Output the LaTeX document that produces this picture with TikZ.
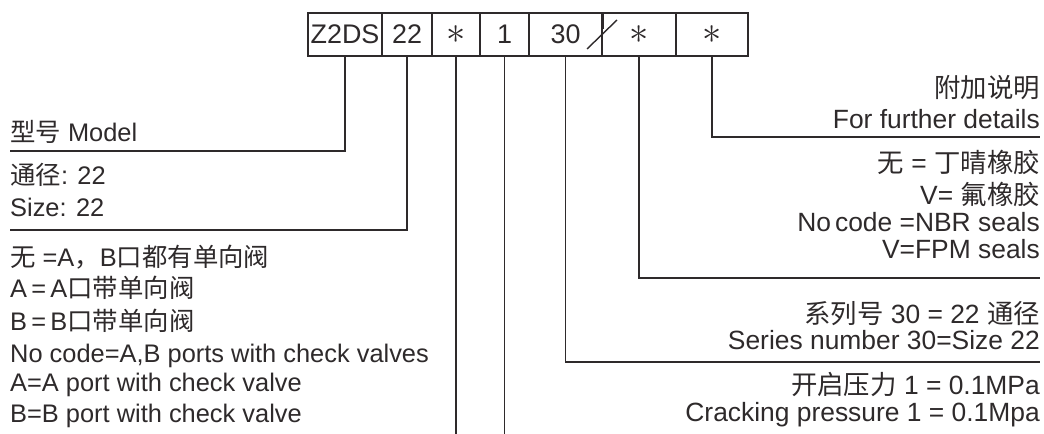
\documentclass[tikz,border=0pt]{standalone}
\usepackage{fontspec}
\setmainfont{Liberation Sans}
\newfontfamily\cjk{Noto Sans CJK SC}
\usetikzlibrary{positioning}
\definecolor{ink}{HTML}{2E2A2B}
\newcommand{\zh}[1]{{\cjk #1}}
\newcommand{\bigast}{\scalebox{1.55}{$\ast$}}
\tikzset{
    codebox/.style={
        rectangle,
        draw=ink,
        line width=1.4bp,
        minimum height=43bp,
        inner sep=0pt,
        outer sep=0pt,
        text height=19bp,
        text depth=0pt,
        text=ink,
        font=\fontsize{27}{30}\selectfont
    },
    leader/.style={
        draw=ink,
        line width=1.4bp
    },
    notel/.style={
        anchor=base west,
        inner sep=0pt,
        text=ink,
        font=\fontsize{25.5}{30}\selectfont
    },
    noter/.style={
        anchor=base east,
        inner sep=0pt,
        text=ink,
        font=\fontsize{26.5}{30}\selectfont
    }
}

\begin{document}
\begin{tikzpicture}[x=1bp, y=-1bp]
\useasboundingbox (0,0) rectangle (1044,434);

% Code boxes
\node[codebox, minimum width=74bp, anchor=west] (model) at (308,34.5) {Z2DS};
\node[codebox, minimum width=50bp, right=0pt of model] (size) {22};
\node[codebox, minimum width=48bp, right=0pt of size] (valve) {\bigast};
\node[codebox, minimum width=49bp, right=0pt of valve] (crack) {1};
\node[codebox, minimum width=73bp, right=0pt of crack] (series) {30};
\node[codebox, minimum width=74bp, right=0pt of series] (seal) {\bigast};
\node[codebox, minimum width=72bp, right=0pt of seal] (extra) {\bigast};

% Slash between 30 and seals
\draw[leader] (587,49) -- (617,20);
\draw[ink, line width=3bp] (series.north east) -- ++(0,16);

% Left notes
\node[notel] (model_txt) at (10,142) {\zh{型号} Model};
\node[notel] (size_zh) at (10,185) {\zh{通径}: 22};
\node[notel] (size_en) at (10,217) {Size: 22};
\node[notel] (valve_zh1) at (10,267) {\zh{无} =A\zh{，}B\zh{口都有单向阀}};
\node[notel] (valve_zh2) at (10,298) {A\,=\,A\zh{口带单向阀}};
\node[notel] (valve_zh3) at (10,331) {B\,=\,B\zh{口带单向阀}};
\node[notel] (valve_en1) at (10,363) {No code=A,B ports with check valves};
\node[notel] (valve_en2) at (10,392) {A=A port with check valve};
\node[notel] (valve_en3) at (10,422) {B=B port with check valve};

% Right notes
\node[noter] (extra_zh) at (1040,98) {\zh{附加说明}};
\node[noter] (extra_en) at (1040,129) {For further details};
\node[noter] (seal_zh1) at (1040,173) {\zh{无} = \zh{丁晴橡胶}};
\node[noter] (seal_zh2) at (1040,205) {V= \zh{氟橡胶}};
\node[noter] (seal_en1) at (1040,232) {No\kern4bp{}code =NBR seals};
\node[noter] (seal_en2) at (1040,259) {V=FPM seals};
\node[noter] (series_zh) at (1040,324) {\zh{系列号} 30 = 22 \zh{通径}};
\node[noter] (series_en) at (1040,350) {Series number 30=Size 22};
\node[noter] (crack_zh) at (1040,395) {\zh{开启压力} 1 = 0.1MPa};
\node[noter] (crack_en) at (1040,421) {Cracking pressure 1 = 0.1Mpa};

% Leader ends
\coordinate (model_end) at (10,151);
\coordinate (size_end) at (10,230);
\coordinate (bottom) at (0,434);
\coordinate (series_end) at (1040,362);
\coordinate (seal_end) at (1040,278);
\coordinate (extra_end) at (1040,137);

% Leaders
\draw[leader] (model.south) |- (model_end);
\draw[leader] (size.south) |- (size_end);
\draw[leader] (valve.south) -- (valve.south |- bottom);
\draw[leader] (crack.south) -- (crack.south |- bottom);
\draw[leader] (series.south) |- (series_end);
\draw[leader] (seal.south) |- (seal_end);
\draw[leader] (extra.south) |- (extra_end);

\end{tikzpicture}
\end{document}
